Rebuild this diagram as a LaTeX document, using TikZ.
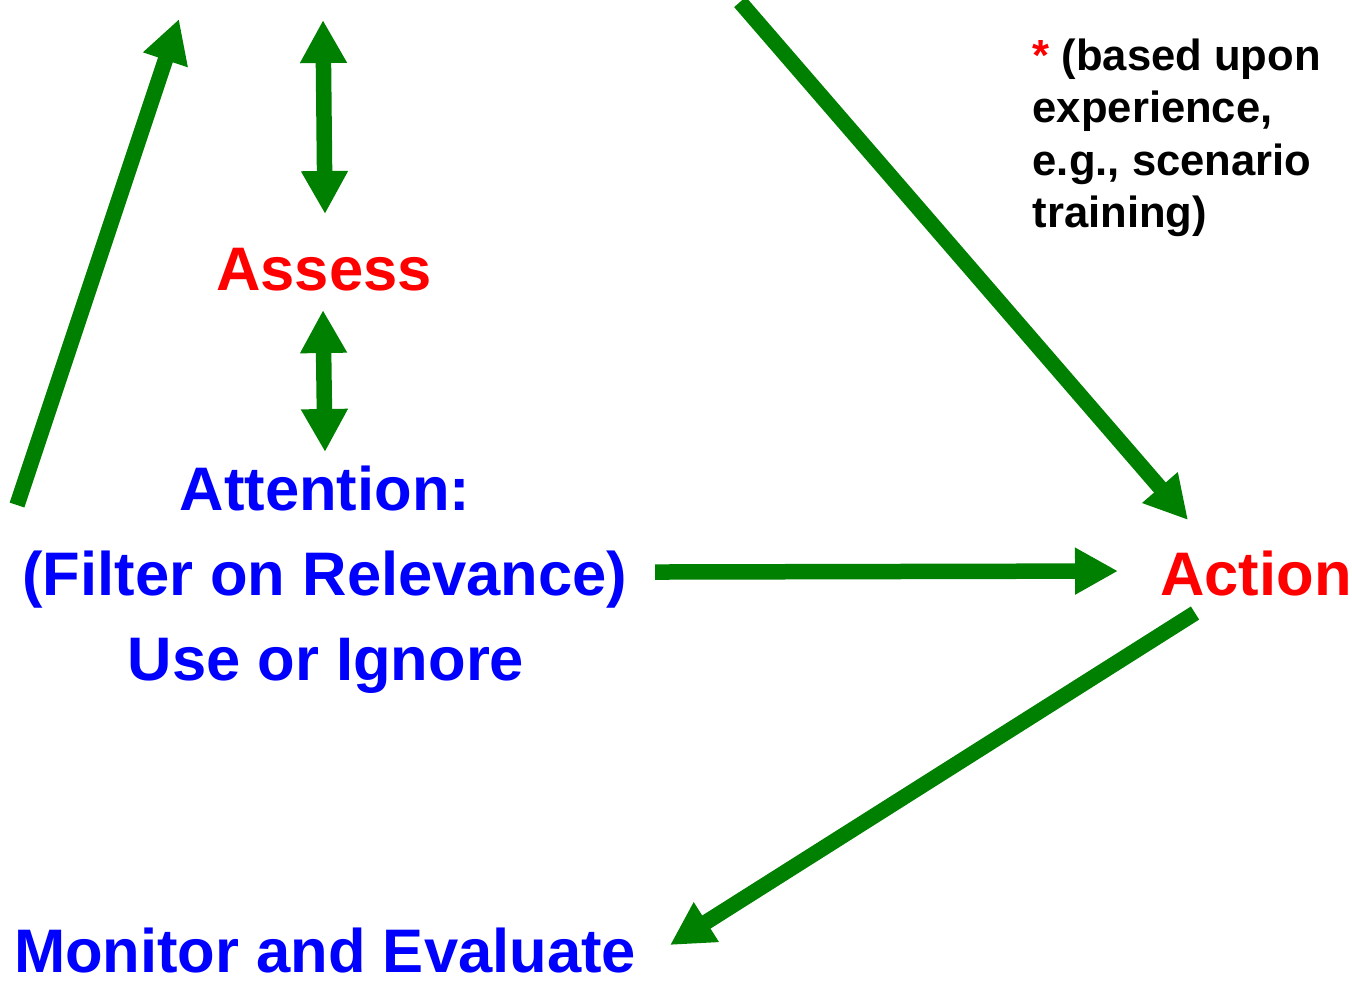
\documentclass[tikz,border=0pt]{standalone}
\usepackage{fontspec}
\setmainfont{Liberation Sans}
\usetikzlibrary{arrows.meta}
\definecolor{flowgreen}{RGB}{0,128,0}
\tikzset{flow/.style={flowgreen, line width=1.55mm, -{Triangle[length=4.3mm,width=4.4mm]}},
  twoway/.style={flow, {Triangle[length=4.3mm,width=4.4mm]}-{Triangle[length=4.3mm,width=4.4mm]}},
  big/.style={font=\fontsize{17.5}{21}\selectfont\bfseries, inner sep=0pt, anchor=base},
  note/.style={font=\fontsize{12.4}{14.8}\selectfont\bfseries, inner sep=0pt, anchor=base west, align=left}}

\begin{document}
\begin{tikzpicture}[x=1cm,y=-1cm]
   \useasboundingbox (0,0) rectangle (13.52,9.80);
   % texts
   \node[big,red] (assess) at (3.24,2.90) {Assess};
   \node[big,blue] (attention) at (3.25,5.10) {Attention:};
   \node[big,blue] (filter) at (3.25,5.95) {(Filter on Relevance)};
   \node[big,blue] (use) at (3.26,6.80) {Use or Ignore};
   \node[big,blue] (monitor) at (3.25,9.72) {Monitor and Evaluate};
   \node[big,red] (action) at (12.56,5.95) {Action};
   % base of the note is its last line
   \node[note] (basis) at (10.32,2.27) {\textcolor{red}{*} (based upon\\experience,\\e.g., scenario\\training)};
   % arrow ends
   \coordinate (up from) at (0.17,5.05);
   \coordinate (up to) at (1.79,0.19);
   \coordinate (assess top) at (3.23,0.20);
   \coordinate (assess up) at (3.25,2.14);
   \coordinate (assess down) at (3.23,3.10);
   \coordinate (attention top) at (3.25,4.52);
   \coordinate (top from) at (7.40,0.02);
   \coordinate (action top) at (11.88,5.20);
   \coordinate (filter right) at (6.55,5.72);
   \coordinate (action left) at (11.18,5.71);
   \coordinate (action bottom) at (11.95,6.13);
   \coordinate (monitor right) at (6.70,9.45);
   % arrows
   \draw[flow] (up from) -- (up to);
   \draw[twoway] (assess top) -- (assess up);
   \draw[twoway] (assess down) -- (attention top);
   \draw[flow] (top from) -- (action top);
   \draw[flow] (filter right) -- (action left);
   \draw[flow] (action bottom) -- (monitor right);
\end{tikzpicture}
\end{document}
